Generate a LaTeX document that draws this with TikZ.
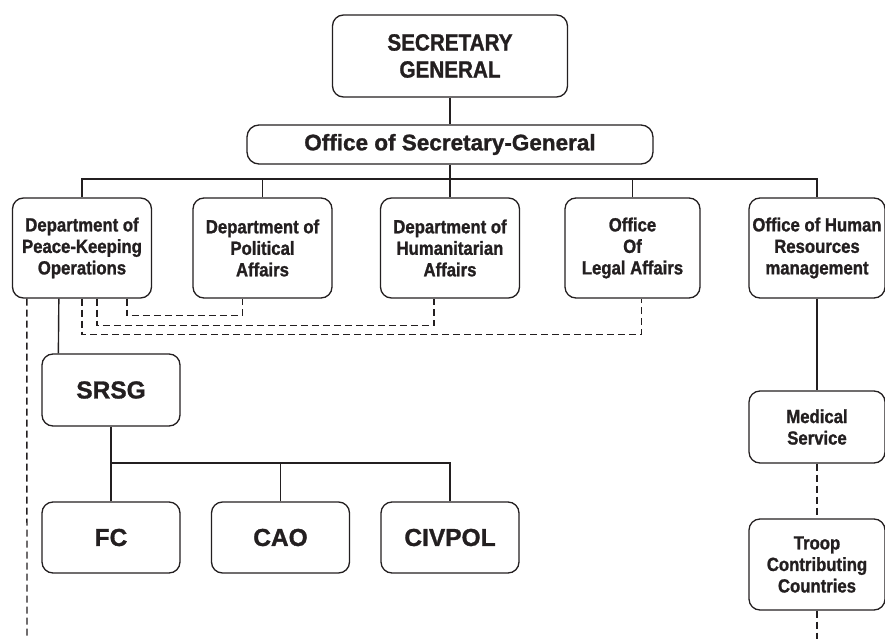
\documentclass[tikz,border=0pt]{standalone}
\usepackage{fontspec}
\setmainfont{Liberation Sans}
% heavy condensed face for box labels, and a normal-width companion
\newfontface\heavy{Liberation Sans Bold}[FakeStretch=0.88,FakeBold=1.2]
\newfontface\heavyw{Liberation Sans Bold}[FakeBold=1.2]
\usetikzlibrary{calc}
\definecolor{ink}{HTML}{231F20}
\begin{document}
\begin{tikzpicture}[x=1pt,y=-1pt,
  box/.style={draw=ink,line width=1.3pt,rounded corners=11pt,align=center,
    inner sep=0pt,text=ink,font=\heavy\fontsize{19}{21.5}\selectfont},
  dept/.style={box,minimum width=139pt,minimum height=100pt},
  side/.style={box,minimum width=136pt},
  big/.style={box,font=\heavyw\fontsize{24.5}{28}\selectfont,minimum width=138pt,minimum height=72pt},
  link/.style={draw=ink,line width=1.4pt},
  dsh/.style={link,dash pattern=on 7pt off 4pt}]
\useasboundingbox (0,0) rectangle (885,639);

% top of the hierarchy
\node[box,minimum width=235pt,minimum height=82pt,
  font=\heavy\fontsize{23.5}{27}\selectfont] (sg) at (450,56) {SECRETARY\\GENERAL};
\node[box,minimum width=406pt,minimum height=39pt,rounded corners=12pt,
  font=\heavyw\fontsize{22.5}{24}\selectfont] (osg) at (450,144.5) {Office of Secretary-General};

% departments and offices
\node[dept] (dpko) at (82,248) {Department of\\Peace-Keeping\\Operations};
\node[dept] (dpa)  at (262.5,248) {Department of\\Political\\Affairs};
\node[dept] (dha)  at (450,248) {Department of\\Humanitarian\\Affairs};
\node[dept,minimum width=135pt] (ola) at (632.5,248) {Office\\Of\\Legal Affairs};
\node[dept,minimum width=136pt] (ohrm) at (817,248) {Office of Human\\Resources\\management};

% field mission
\node[big] (srsg) at (111,390) {SRSG};
\node[big,minimum height=71pt] (fc) at (111,537.5) {FC};
\node[big,minimum height=71pt] (cao) at (280.5,537.5) {CAO};
\node[big,minimum height=71pt] (civpol) at (450,537.5) {CIVPOL};

% right column
\node[side,minimum height=72pt] (med) at (817,427) {Medical\\Service};
\node[side,minimum height=91pt] (tcc) at (817,564.5) {Troop\\Contributing\\Countries};

% reporting lines
\coordinate (bus) at (450,179);
\coordinate (bus2) at (280.5,463);
\draw[link] (sg) -- (osg);
\draw[link] (osg.south) -- (bus);
\draw[link] (dpko.north) |- (bus) -| (ohrm.north);
\draw[link] (dpa.north) -- (dpa.north |- bus);
\draw[link] (dha.north) -- (dha.north |- bus);
\draw[link] (ola.north) -- (ola.north |- bus);
\draw[link] ([xshift=47pt]dpko.south west) -- ([xshift=17pt]srsg.north west);
\draw[link] (srsg.south) |- (bus2) -| (civpol.north);
\draw[link] (fc.north) -- (fc.north |- bus2);
\draw[link] (cao.north) -- (cao.north |- bus2);
\draw[link] (ohrm) -- (med);

% coordination lines
\coordinate (lend) at (27,636);
\coordinate (rend) at (817,639);
\draw[dsh] ([xshift=115pt]dpko.south west) -- ++(0,17) -| ([xshift=50pt]dpa.south west);
\draw[dsh] ([xshift=85pt]dpko.south west) -- ++(0,27) -| ([xshift=54pt]dha.south west);
\draw[dsh] (dpko.south) -- ++(0,36) -| ([xshift=77pt]ola.south west);
\draw[dsh] ([xshift=15pt]dpko.south west) -- (lend);
\draw[dsh] (med) -- (tcc);
\draw[dsh] (tcc.south) -- (rend);
\end{tikzpicture}
\end{document}
